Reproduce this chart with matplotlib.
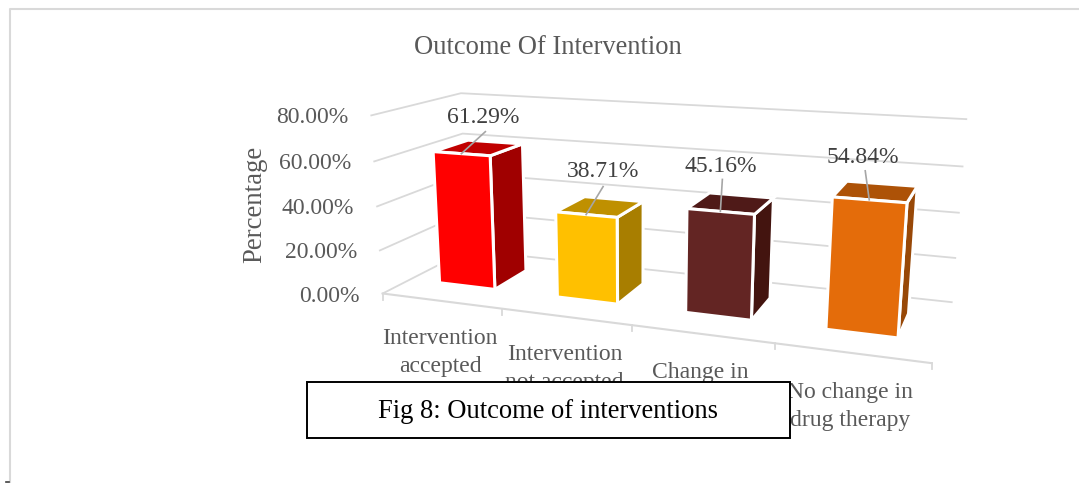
import numpy as np
import matplotlib
matplotlib.use('Agg')
import matplotlib.pyplot as plt
from matplotlib.patches import Polygon, Rectangle

plt.rcParams['font.family'] = ['Liberation Serif', 'DejaVu Serif']

# === data ===
# the rest of the third label is hidden under the caption box in the picture
categories = ['Intervention\naccepted', 'Intervention\nnot accepted',
              'Change in', 'No change in\ndrug therapy']
values = [61.29, 38.71, 45.16, 54.84]
value_ticks = [0, 20, 40, 60, 80]

front_colors = ['#ff0000', '#ffc000', '#632523', '#e46c0a']
top_colors = ['#c00000', '#bf9000', '#4f1a18', '#ad5207']
side_colors = ['#a00000', '#a87e00', '#43140f', '#984807']
label_offsets = [(22, -36), (17, -43), (0, -45), (-6, -42)]
leader_offsets = [(24, -22), (17, -28), (2, -32), (-4, -29)]
category_offsets = [38, 38, 39, 40]

TEXT = '#595959'
GRID = '#d9d9d9'
W, H = 1079, 483

# camera: (category, depth, value) -> pixel, fitted on the corners of the chart box
world = [(0, 0, 0), (4, 0, 0), (0, 1, 0), (4, 1, 0), (0, 0, 80), (4, 1, 80), (0, 1, 80),
         (1, 0, 0), (2, 0, 0), (3, 0, 0), (0, 1, 60), (4, 1, 40)]
pixel = [(384, 293), (932, 362), (466, 250), (952, 302), (370, 115), (966, 119), (462, 94),
         (502, 309), (632, 326), (774, 344), (463, 133), (959, 213)]
rows = []
for (c, d, v), (px, py) in zip(world, pixel):
    rows.append([c, d, v, 1, 0, 0, 0, 0, -px * c, -px * d, -px * v, -px])
    rows.append([0, 0, 0, 0, c, d, v, 1, -py * c, -py * d, -py * v, -py])
cam = np.linalg.svd(np.array(rows, dtype=float))[2][-1].reshape(3, 4)


def project(c, d, v):
    x, y, w = cam @ np.array([c, d, v, 1.0])
    return x / w, y / w


fig = plt.figure(figsize=(W / 100, H / 100), dpi=100)
ax = fig.add_axes([0, 0, 1, 1])
ax.set_xlim(0, W)
ax.set_ylim(H, 0)
ax.axis('off')

# page frame
ax.plot([10, 10, W], [H, 9, 9], color='#d9d9d9', lw=1.5, zorder=1)
ax.plot([6, 9], [482, 482], color='#404040', lw=1.2, zorder=1)

ax.text(548, 47, 'Outcome Of Intervention', fontsize=19.1, color=TEXT, ha='center', va='center')
ax.text(255, 204, 'Percentage', fontsize=19.3, color=TEXT, rotation=90, ha='center', va='center')

# gridlines on the two walls
for v in value_ticks:
    pts = [project(0, 0, v), project(0, 1, v), project(4, 1, v)]
    ax.plot(*zip(*pts), color=GRID, lw=1.3, zorder=2)
    x, y = project(0, 0, v)
    ax.text(x - 23, y + 2.5, f'{v:.2f}%', fontsize=17, color=TEXT, ha='right', va='center')

# floor front edge and ticks
ax.plot(*zip(project(0, 0, 0), project(4, 0, 0)), color=GRID, lw=1.5, zorder=2)
for i in range(len(categories) + 1):
    x, y = project(i, 0, 0)
    ax.plot([x, x], [y, y + 6], color=GRID, lw=1.3, zorder=2)

# bars
c_pad, d0, d1 = 0.26, 0.30, 0.71
for i, val in enumerate(values):
    c0, c1 = i + c_pad, i + 1 - c_pad
    side = [project(c1, d0, 0), project(c1, d1, 0), project(c1, d1, val), project(c1, d0, val)]
    top = [project(c0, d0, val), project(c1, d0, val), project(c1, d1, val), project(c0, d1, val)]
    front = [project(c0, d0, 0), project(c1, d0, 0), project(c1, d0, val), project(c0, d0, val)]
    for poly, col in zip((side, top, front), (side_colors[i], top_colors[i], front_colors[i])):
        ax.add_patch(Polygon(poly, closed=True, facecolor=col, edgecolor='white', lw=2.2,
                             joinstyle='miter', zorder=3))

    # data label with its leader line
    ax_x, ax_y = project(i + 0.5, d0, val)
    ax.plot([ax_x, ax_x + leader_offsets[i][0]], [ax_y, ax_y + leader_offsets[i][1]],
            color='#a6a6a6', lw=1.2, zorder=4)
    ax.text(ax_x + label_offsets[i][0], ax_y + label_offsets[i][1], f'{val:.2f}%',
            fontsize=17, color='#404040', ha='center', va='center', zorder=5)

    # category label, one text per line
    lx, ly = project(i + 0.5, 0, 0)
    for n, line in enumerate(categories[i].split('\n')):
        ax.text(lx - 1, ly + category_offsets[i] + 28 * n, line, fontsize=17, color=TEXT,
                ha='center', va='center', zorder=3)

# caption box laid over the chart
ax.add_patch(Rectangle((307, 382), 483, 56, facecolor='white', edgecolor='black', lw=1.4, zorder=6))
ax.text(548, 411, 'Fig 8: Outcome of interventions', fontsize=19.1, color='black',
        ha='center', va='center', zorder=7)

fig.savefig('out.png', dpi=100)
